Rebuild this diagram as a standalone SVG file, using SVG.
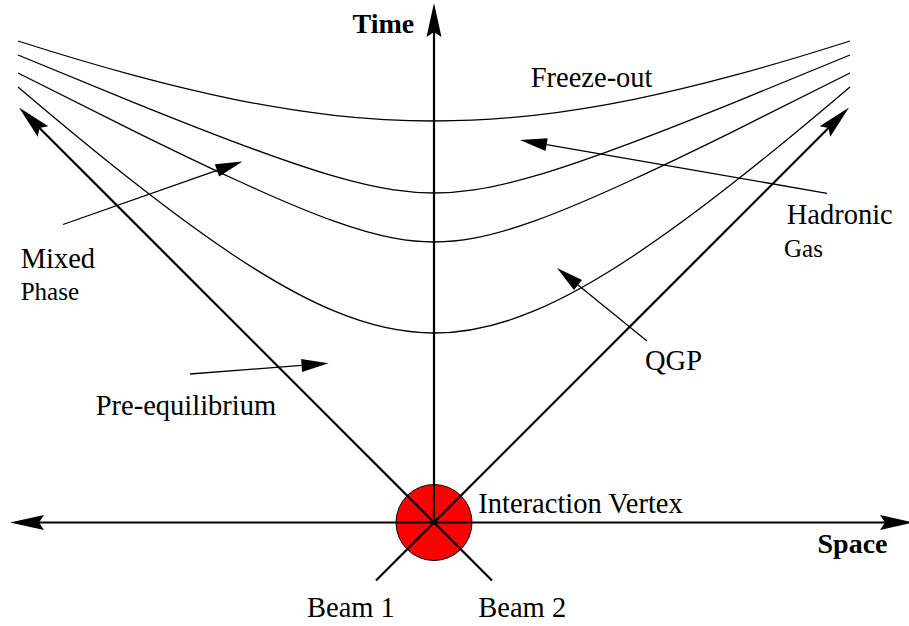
<svg xmlns="http://www.w3.org/2000/svg" width="909" height="626" viewBox="0 0 909 626">
<style>
  .lbl { font-family: "Liberation Serif", "Times New Roman", serif; font-size: 28.5px; fill: #000; }
  .sm { font-size: 25px; }
  .bold { font-weight: bold; font-size: 28px; }
  .axis { stroke: #000; stroke-width: 2.2; fill: none; }
  .curve { stroke: #000; stroke-width: 1.3; fill: none; }
  .ptr { stroke: #000; stroke-width: 1.3; fill: none; }
</style>
<defs>
  <marker id="bigArrow" markerUnits="userSpaceOnUse" orient="auto-start-reverse" overflow="visible" markerWidth="10" markerHeight="10" refX="0" refY="0">
    <path d="M29,0 L-5,-7.5 L0,0 L-5,7.5 Z" fill="#000"/>
  </marker>
  <marker id="smallArrow" markerUnits="userSpaceOnUse" orient="auto" overflow="visible" markerWidth="10" markerHeight="10" refX="0" refY="0">
    <path d="M0,-6.5 L27,0 L0,6.5 Z" fill="#000"/>
  </marker>
</defs>
<rect width="909" height="626" fill="#fff"/>

<g id="phase-curves">
  <path id="freeze-out-curve" class="curve" d="M18,41 C56.7,53.35 95.3,64.98 134,75.4 C167.3,84.38 200.7,92.51 234,99.3 C267.3,106.09 300.7,111.56 334,115.3 C367.3,119.04 400.7,121 434,121 C467.3,121 500.7,119.04 534,115.3 C567.3,111.56 600.7,106.09 634,99.3 C667.3,92.51 700.7,84.38 734,75.4 C772.7,64.98 811.3,53.35 850,41"/>
  <path id="hadronic-curve" class="curve" d="M18,54.99 C56.67,71.04 95.33,86.97 134,102.57 C167.33,116.02 200.67,129.25 234,141.83 C267.33,154.41 300.67,166.48 334,176.19 C354,182.02 374,186.94 394,189.92 C407.33,191.91 420.67,193 434,193 C447.33,193 460.67,191.91 474,189.92 C494,186.94 514,182.02 534,176.19 C567.33,166.48 600.67,154.41 634,141.83 C667.33,129.25 700.67,116.02 734,102.57 C772.67,86.97 811.33,71.04 850,54.99"/>
  <path id="mixed-curve" class="curve" d="M18,73.02 C56.67,92.59 95.33,112.02 134,131.06 C167.33,147.48 200.67,163.64 234,179.03 C267.33,194.42 300.67,209.22 334,221.19 C354,228.37 374,234.47 394,238.17 C407.33,240.64 420.67,242 434,242 C447.33,242 460.67,240.64 474,238.17 C494,234.47 514,228.37 534,221.19 C567.33,209.22 600.67,194.42 634,179.03 C667.33,163.64 700.67,147.48 734,131.06 C772.67,112.02 811.33,92.59 850,73.02"/>
  <path id="qgp-curve" class="curve" d="M18,86.99 C56.67,119.9 95.33,151.98 134,182.3 C167.33,208.44 200.67,233.3 234,255.44 C267.33,277.58 300.67,297.03 334,310.97 C367.33,324.91 400.67,333 434,333 C467.33,333 500.67,324.91 534,310.97 C567.33,297.03 600.67,277.58 634,255.44 C667.33,233.3 700.67,208.44 734,182.3 C772.67,151.98 811.33,119.9 850,86.99"/>
</g>

<g id="vertex">
  <circle cx="434" cy="522.5" r="38" fill="#ff0000" stroke="#000" stroke-width="1"/>
</g>

<g id="connectors">
  <line id="space-axis" class="axis" x1="39" y1="522.5" x2="885" y2="522.5" marker-start="url(#bigArrow)" marker-end="url(#bigArrow)"/>
  <line id="time-axis" class="axis" x1="434" y1="522.5" x2="434" y2="32" marker-end="url(#bigArrow)"/>
  <line id="beam1" class="axis" x1="376" y1="580.5" x2="828.5" y2="128" marker-end="url(#bigArrow)"/>
  <line id="beam2" class="axis" x1="492" y1="580.5" x2="39.5" y2="128" marker-end="url(#bigArrow)"/>
  <line id="ptr-mixed" class="ptr" x1="63" y1="224.5" x2="217" y2="170.4" marker-end="url(#smallArrow)"/>
  <line id="ptr-preeq" class="ptr" x1="190" y1="374" x2="301.6" y2="365.4" marker-end="url(#smallArrow)"/>
  <line id="ptr-hadronic" class="ptr" x1="827" y1="193.3" x2="546.6" y2="144.6" marker-end="url(#smallArrow)"/>
  <line id="ptr-qgp" class="ptr" x1="647" y1="341" x2="578" y2="285" marker-end="url(#smallArrow)"/>
</g>

<g id="labels">
  <text id="t-time" class="lbl bold" x="352.5" y="33.3">Time</text>
  <text id="t-space" class="lbl bold" x="817.5" y="552.7">Space</text>
  <text id="t-freeze" class="lbl" x="530.7" y="86.7">Freeze-out</text>
  <text id="t-hadronic" class="lbl" x="786.7" y="224">Hadronic</text>
  <text id="t-gas" class="lbl sm" x="784" y="257">Gas</text>
  <text id="t-mixed" class="lbl" x="20.7" y="267.7">Mixed</text>
  <text id="t-phase" class="lbl sm" x="20.7" y="300">Phase</text>
  <text id="t-qgp" class="lbl" x="645" y="370">QGP</text>
  <text id="t-preeq" class="lbl" x="95.7" y="415">Pre-equilibrium</text>
  <text id="t-vertex" class="lbl" x="478.3" y="512.7">Interaction Vertex</text>
  <text id="t-beam1" class="lbl" x="307" y="616.7">Beam 1</text>
  <text id="t-beam2" class="lbl" x="478.3" y="616.7">Beam 2</text>
</g>
</svg>
